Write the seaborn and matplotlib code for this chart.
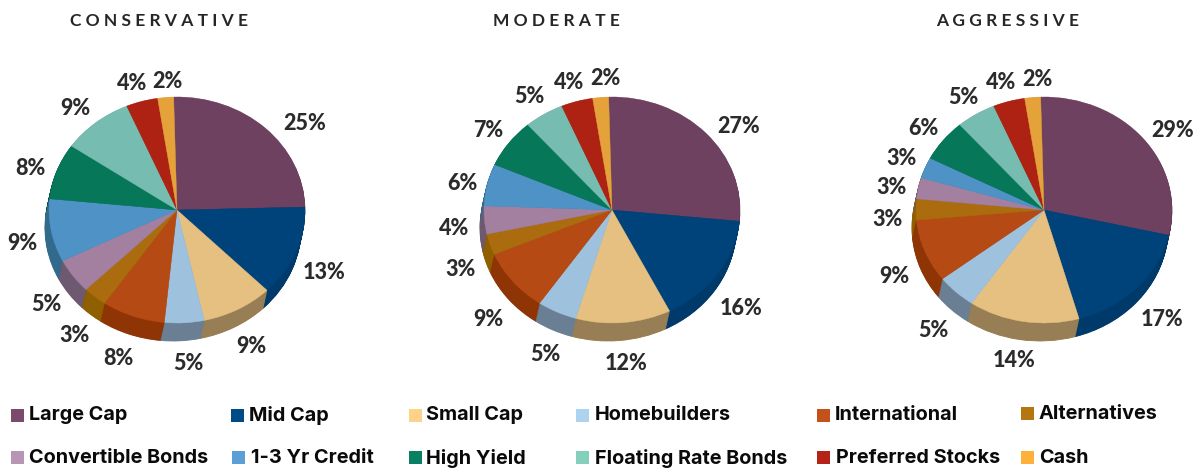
import matplotlib
matplotlib.use("Agg")
import matplotlib.pyplot as plt
import seaborn as sns
from matplotlib.patches import Rectangle

# data
categories = ["Large Cap", "Mid Cap", "Small Cap", "Homebuilders", "International", "Alternatives",
              "Convertible Bonds", "1-3 Yr Credit", "High Yield", "Floating Rate Bonds", "Preferred Stocks", "Cash"]
conservative = [25, 13, 9, 5, 8, 3, 5, 9, 8, 9, 4, 2]
moderate = [27, 16, 12, 5, 9, 3, 4, 6, 7, 5, 4, 2]
aggressive = [29, 17, 14, 5, 9, 3, 3, 3, 6, 5, 4, 2]
titles = ["CONSERVATIVE", "MODERATE", "AGGRESSIVE"]

# colours
top_colors = ["#6E4160", "#00427A", "#E6C081", "#9EC1DE", "#B54A15", "#AA6C0E",
              "#A3809F", "#4F92C6", "#07775A", "#77BCB0", "#AD2213", "#E5A23A"]
side_colors = ["#4E2E44", "#003A6B", "#977E55", "#6A7F93", "#8E3405", "#8F5F00",
               "#6E5A70", "#326A8C", "#05533F", "#55857C", "#7A180D", "#A07228"]
legend_colors = ["#7B4A6C", "#004A86", "#FFD28A", "#AED3F0", "#C2521A", "#B4760F",
                 "#B795B5", "#5AA0D6", "#0A8063", "#84D0BD", "#B52317", "#FFB03B"]

# layout, in pixels of the 1202x468 picture
W, H = 1202, 468
centers = [177, 612, 1044]
RX, RY, CY = 128, 113, 210
DEPTH_X, DEPTH_Y = 4, 18
title_x = [158.5, 556, 1007.5]
label_pos = [
    [(305, 122), (324, 271), (251, 345), (188, 362), (118, 357), (74, 334),
     (46, 303), (22, 242), (30, 167), (75, 107), (132, 82), (167, 80)],
    [(739, 125), (741, 307), (626, 362), (545, 353), (488, 318), (460, 268),
     (454, 227), (462, 182), (488, 129), (529, 95), (569, 81), (605, 77)],
    [(1173, 129), (1162, 318), (1014, 359), (933, 329), (894, 275), (887, 218),
     (891, 186), (901, 157), (923, 127), (963, 96), (1001, 81), (1037, 78)],
]
legend_sq_x = [11, 231, 409, 576, 817, 1021, 11, 232, 409, 576, 817, 1021]
legend_txt_x = [29, 249, 426, 595, 835, 1039, 29, 251, 426, 595, 836, 1039]
legend_y = [415, 415, 415, 415, 415, 413.5, 457.5, 457.5, 457.5, 457.5, 457.5, 457.5]

sns.set_theme(style="white")
plt.rcParams["font.family"] = ["Lato", "DejaVu Sans"]

fig = plt.figure(figsize=(W / 100, H / 100), dpi=100, facecolor="white")

all_values = [conservative, moderate, aggressive]
top_pal = sns.color_palette(top_colors)
side_pal = sns.color_palette(side_colors)


def draw_pie(ax, values, pal, center=(0, 0), lw=0.3):
    wedges, _ = ax.pie(values, colors=pal, startangle=91.5, counterclock=False, center=center)
    for w in wedges:
        w.set_edgecolor(w.get_facecolor())
        w.set_linewidth(lw)


# pies: side is the same pie stacked a few times, face goes on last
for cx, values in zip(centers, all_values):
    left = (cx - 1.5 * RX) / W
    bottom = 1 - (CY + 1.5 * RY) / H
    ax = fig.add_axes([left, bottom, 3 * RX / W, 3 * RY / H])
    steps = 24
    for i in range(steps, 0, -1):
        t = i / steps
        draw_pie(ax, values, side_pal, center=(-t * DEPTH_X / RX, -t * DEPTH_Y / RY), lw=0.6)
    draw_pie(ax, values, top_pal)
    ax.set_aspect("auto")
    ax.set_xlim(-1.5, 1.5)
    ax.set_ylim(-1.5, 1.5)

# text layer in pixel coordinates
over = fig.add_axes([0, 0, 1, 1], zorder=5)
over.set_xlim(0, W)
over.set_ylim(H, 0)
over.axis("off")
over.patch.set_alpha(0)

for x, title in zip(title_x, titles):
    over.text(x, 21, " ".join(title), ha="center", va="center", fontsize=12.5,
              fontweight="bold", color="#262626")

for values, positions in zip(all_values, label_pos):
    for v, (x, y) in zip(values, positions):
        over.text(x, y + 1.5, f"{v}%", ha="center", va="center", fontsize=15.5,
                  fontweight="black", color="#2B2B2B")

for name, color, sx, tx, y in zip(categories, legend_colors, legend_sq_x, legend_txt_x, legend_y):
    over.add_patch(Rectangle((sx, y - 6.5), 13, 13, facecolor=color, edgecolor="none"))
    over.text(tx, y + 0.5, name, ha="left", va="center", fontsize=14.3, fontweight="bold",
              family=["Inter", "DejaVu Sans"], color="#0A0A0A")

fig.savefig("out.png", dpi=100)
